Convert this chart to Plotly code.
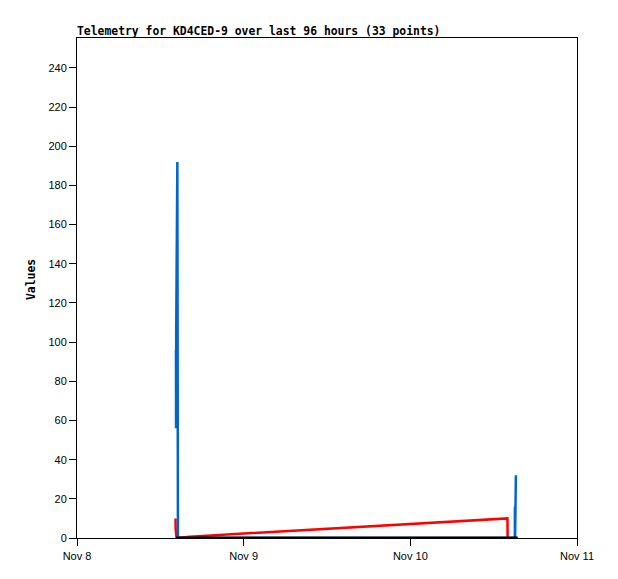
import plotly.graph_objects as go

# ---- data ----
red_times = ["2023-11-08 14:11", "2023-11-08 14:12", "2023-11-08 14:20",
             "2023-11-08 16:16", "2023-11-10 13:59", "2023-11-10 14:01"]
red_vals = [10, 5, 0, 0.7, 10, 0]

blue_times = ["2023-11-08 14:15", "2023-11-08 14:16", "2023-11-08 14:17",
              "2023-11-08 14:27", "2023-11-08 14:28", "2023-11-08 14:32",
              "2023-11-10 15:03", "2023-11-10 15:04", "2023-11-10 15:05",
              "2023-11-10 15:12"]
blue_vals = [96, 56, 104, 192, 16, 0, 0, 16, 0, 32]

black_times = ["2023-11-08 14:15", "2023-11-10 15:28"]
black_vals = [0, 0]

x_tick_vals = ["2023-11-08", "2023-11-09", "2023-11-10", "2023-11-11"]
x_tick_text = ["Nov 8", "Nov 9", "Nov 10", "Nov 11"]
y_tick_vals = [0, 20, 40, 60, 80, 100, 120, 140, 160, 180, 200, 220, 240]

title_text = "Telemetry for KD4CED-9 over last 96 hours (33 points)"

W, H = 602, 563
L, T = 69, 30
PW, PH = 500, 500

fig = go.Figure()
fig.add_trace(go.Scatter(x=red_times, y=red_vals, mode="lines",
                         line=dict(color="#ff0000", width=2.5)))
fig.add_trace(go.Scatter(x=blue_times, y=blue_vals, mode="lines",
                         line=dict(color="#0066cc", width=2.5)))
fig.add_trace(go.Scatter(x=black_times, y=black_vals, mode="lines",
                         line=dict(color="#000000", width=3)))

tick_font = dict(family="Liberation Sans", size=11, color="#000")

fig.update_layout(
    width=W, height=H,
    margin=dict(l=L, r=W - L - PW, t=T, b=H - T - PH),
    paper_bgcolor="white", plot_bgcolor="white",
    showlegend=False,
    title=dict(text=title_text, x=L / W, xanchor="left", xref="container",
               y=1 - 23 / H, yanchor="middle", yref="container",
               automargin=False,
               font=dict(family="DejaVu Sans Mono", size=11.4, color="#000",
                         weight="bold")),
    annotations=[dict(text="Values", xref="paper", yref="paper",
                      x=-0.092, y=0.516, textangle=-90, showarrow=False,
                      xanchor="center", yanchor="middle",
                      font=dict(family="DejaVu Sans Mono", size=11.4,
                                color="#000", weight="bold"))],
)
fig.update_xaxes(type="date", range=["2023-11-08", "2023-11-11"],
                 tickvals=x_tick_vals, ticktext=x_tick_text,
                 showgrid=False, zeroline=False, automargin=False,
                 showline=True, linecolor="#000", linewidth=1, mirror=True,
                 ticks="outside", ticklen=7, tickcolor="#000",
                 ticklabelstandoff=1, tickfont=tick_font)
fig.update_yaxes(range=[0, 255.3], tickvals=y_tick_vals,
                 showgrid=False, zeroline=False, automargin=False,
                 showline=True, linecolor="#000", linewidth=1, mirror=True,
                 ticks="outside", ticklen=7, tickcolor="#000",
                 tickfont=tick_font)

fig.write_html("out.html")
